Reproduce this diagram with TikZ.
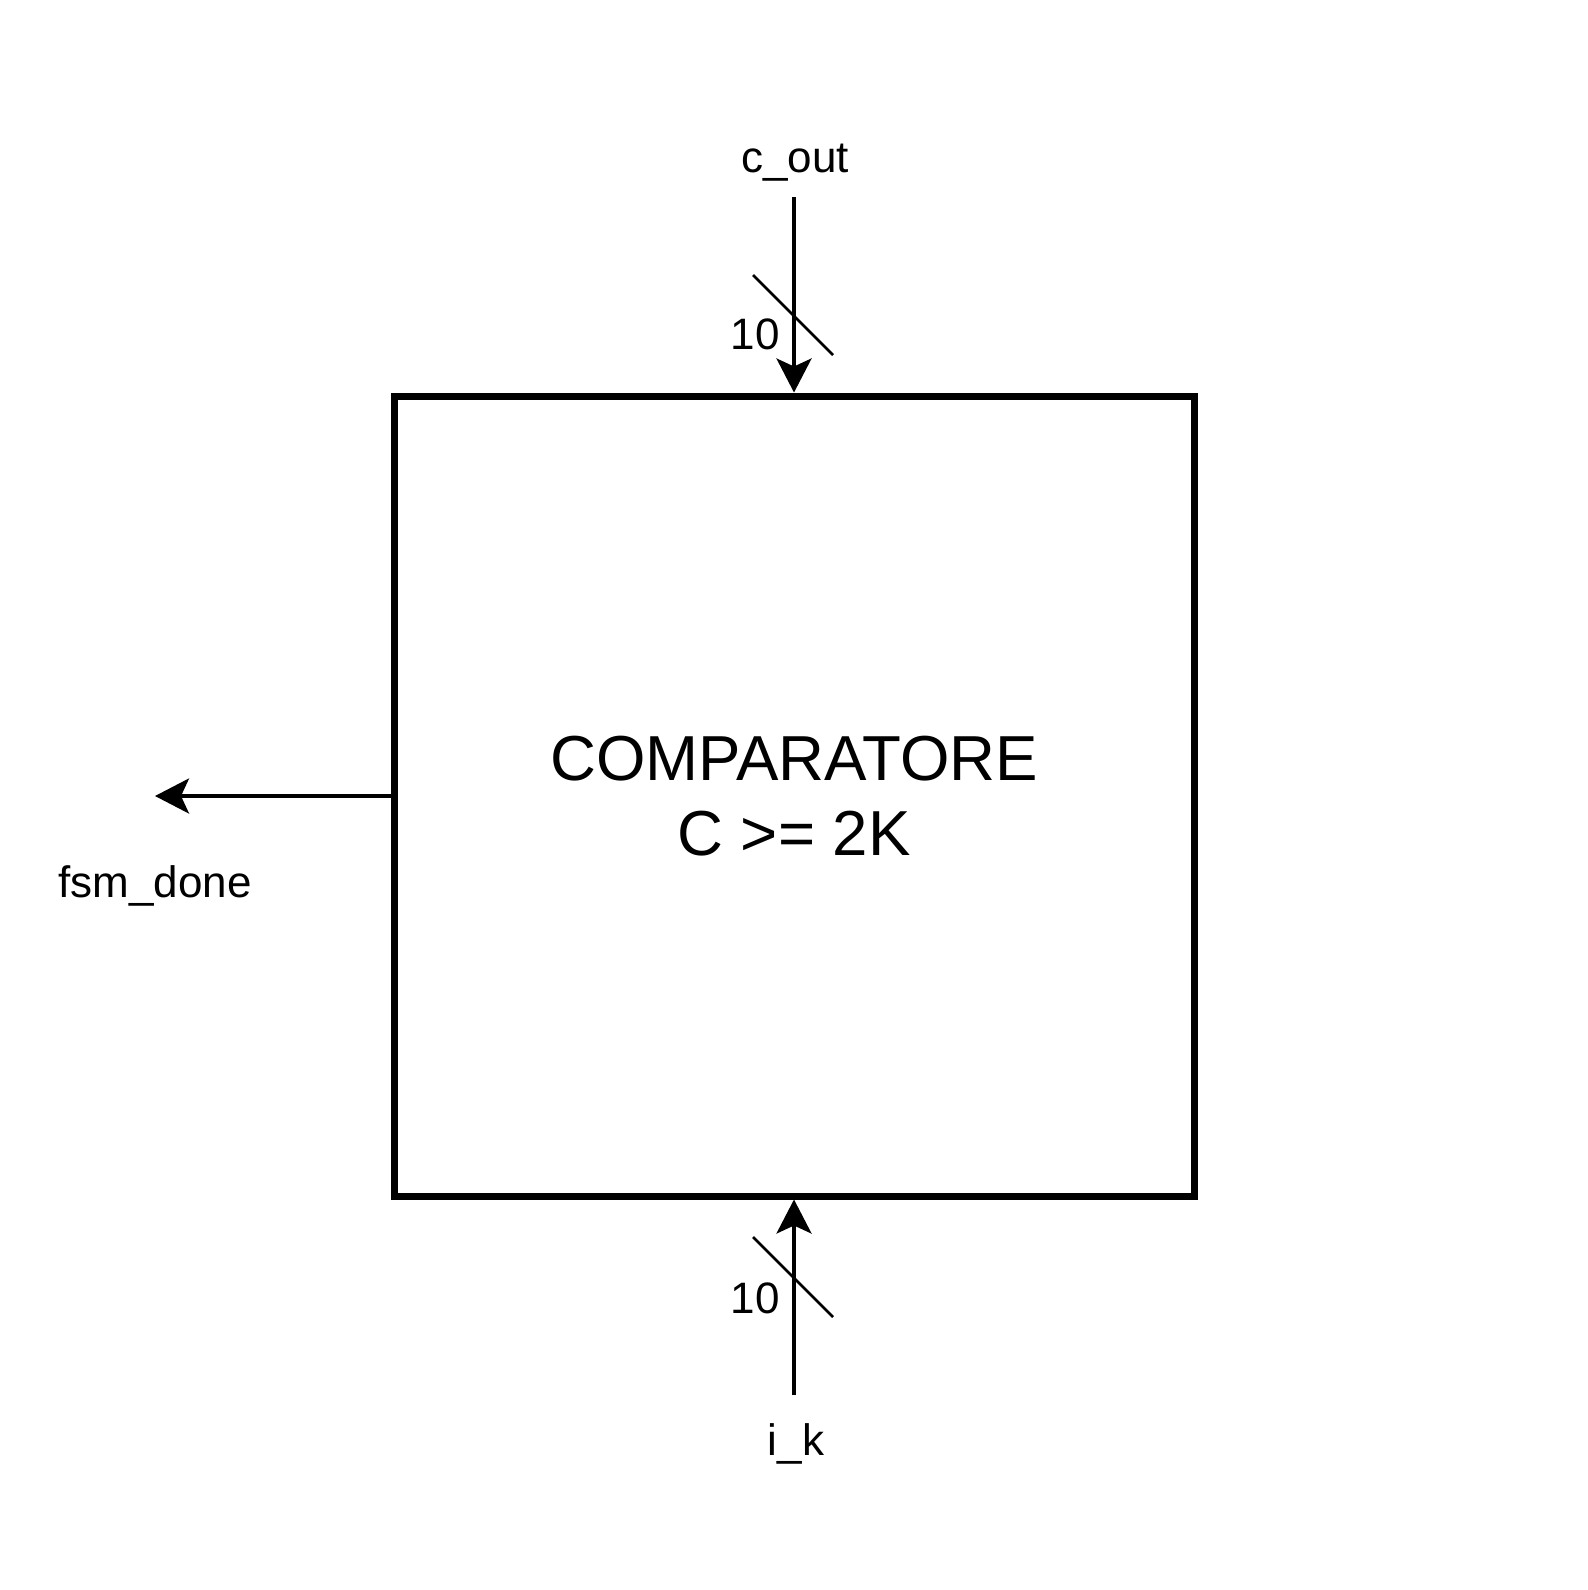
\documentclass[tikz,border=0pt]{standalone}
\usepackage{fontspec}
\setmainfont{Liberation Sans}
\usetikzlibrary{arrows.meta, positioning}

\begin{document}
\begin{tikzpicture}[x=0.5pt, y=-0.5pt,
    sig/.style={line width=1.8pt, -{Stealth[length=17pt, width=17.5pt, inset=4pt]}},
    busmark/.style={line width=1.3pt},
    lbl/.style={anchor=base, inner sep=0pt, font=\fontsize{22}{26}\selectfont}]
    \useasboundingbox (0,0) rectangle (1588,1590);

    % blocco comparatore
    \node[draw, line width=3.5pt, minimum width=400pt, minimum height=400pt, align=center,
          font=\fontsize{31.8}{37.5}\selectfont] (comp) at (794,796) {COMPARATORE\\C >= 2K};

    % ingressi e uscita
    \coordinate (cout) at (794,197);
    \coordinate (ik) at (794,1395);
    \coordinate (done) at (155,796);
    \draw[sig] (cout) -- (comp.north);
    \draw[sig] (ik) -- (comp.south);
    \draw[sig] (comp.west) -- (done);

    % bus a 10 bit
    \draw[busmark] (753,275) -- (833,355);
    \draw[busmark] (753,1237) -- (833,1317);
    \node[lbl] (wtop) at (755,349) {10};
    \node[lbl] (wbot) at (755,1313) {10};

    % etichette
    \node[lbl] (coutlbl) at (795,172) {c\_out};
    \node[lbl] (iklbl) at (796,1455) {i\_k};
    \node[lbl] (donelbl) at (155,897) {fsm\_done};
\end{tikzpicture}
\end{document}
